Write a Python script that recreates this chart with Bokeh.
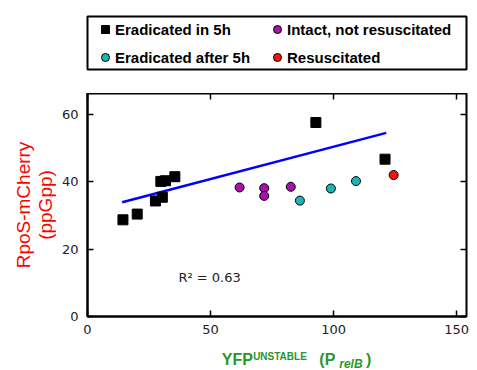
from bokeh.plotting import figure
from bokeh.layouts import column
from bokeh.models import (Legend, LegendItem, LinearAxis, Label, FixedTicker,
                          Range1d, CustomLabelingPolicy)
from bokeh.embed import file_html
from bokeh.resources import INLINE

# Cells eradicated within 5 h
erad5_x = [14.4, 20.2, 27.6, 30.4, 29.8, 31.7, 35.5, 92.8, 120.9]
erad5_y = [28.7, 30.4, 34.3, 35.4, 40.1, 40.3, 41.5, 57.6, 46.7]
# Intact, not resuscitated
intact_x = [61.8, 71.8, 71.8, 82.6]
intact_y = [38.3, 38.1, 35.8, 38.5]
# Eradicated after 5 h
after_x = [86.3, 98.9, 109.1]
after_y = [34.4, 38.0, 40.2]
# Resuscitated
resus_x = [124.4]
resus_y = [42.0]
# Linear fit through the eradicated-in-5h cells
fit_x = [14.1, 121.4]
fit_y = [33.9, 54.5]
r2_text = "R\u00b2 = 0.63"

series_labels = ["Eradicated in 5h", "Intact, not resuscitated",
                 "Eradicated after 5h", "Resuscitated"]
x_ticks = [0, 50, 100, 150]
y_ticks = [0, 20, 40, 60]

W = 477
LEFT, RIGHT = 87, 11
C_BLACK, C_PURPLE, C_CYAN, C_RED = "black", "#aa10aa", "#1cb4b4", "#ff1010"
GREEN = "#2a962a"
NAN = float("nan")

# ---------------- legend strip ----------------
top = figure(width=W, height=93, output_backend="svg", toolbar_location=None,
             x_range=Range1d(0, 1), y_range=Range1d(0, 1),
             min_border_left=86, min_border_right=10, min_border_top=16,
             min_border_bottom=24, x_axis_type=None, y_axis_type=None)
top.grid.visible = False
top.outline_line_color = "black"
top.outline_line_width = 2
top.border_fill_color = "white"

kw = dict(line_color="black", line_width=1)
# legend keys only: a single undefined point, so nothing is plotted here
proxies = [
    top.scatter([NAN], [NAN], marker="square", fill_color=C_BLACK, **kw),
    top.scatter([NAN], [NAN], marker="circle", fill_color=C_PURPLE, **kw),
    top.scatter([NAN], [NAN], marker="circle", fill_color=C_CYAN, **kw),
    top.scatter([NAN], [NAN], marker="circle", fill_color=C_RED, **kw),
]
legend = Legend(items=[LegendItem(label=t, renderers=[r], index=0)
                       for t, r in zip(series_labels, proxies)],
                location=(8, 1), orientation="horizontal", nrows=2,
                label_text_font="Liberation Sans", label_text_font_style="bold",
                label_text_font_size="15px", label_text_color="black",
                border_line_color=None, background_fill_alpha=0,
                glyph_width=20, glyph_height=22, label_height=20,
                label_standoff=0, label_width=146, spacing=6, padding=0,
                margin=0)
top.add_layout(legend, "center")

# ---------------- scatter plot ----------------
p = figure(width=W, height=249, output_backend="svg", toolbar_location=None,
           x_range=Range1d(0, 154), y_range=Range1d(0, 66.2),
           min_border_left=LEFT, min_border_right=RIGHT, min_border_top=0,
           min_border_bottom=26)
p.border_fill_color = "white"
p.outline_line_color = "black"
p.outline_line_width = 2
p.grid.visible = False

for ax in (p.xaxis[0], p.yaxis[0]):
    ax.axis_line_width = 2
    ax.axis_line_color = "black"
    ax.major_tick_in = 6
    ax.major_tick_out = 0
    ax.minor_tick_in = 0
    ax.minor_tick_out = 0
    ax.major_tick_line_width = 1.5
    ax.major_label_text_font = "DejaVu Sans"
    ax.major_label_text_font_size = "13px"
    ax.major_label_text_color = "#222222"
p.xaxis.ticker = FixedTicker(ticks=x_ticks)
p.yaxis.ticker = FixedTicker(ticks=y_ticks)
p.xaxis.major_label_standoff = 8
p.yaxis.major_label_standoff = 9

p.yaxis.axis_label = "RpoS-mCherry\n(ppGpp)"
p.yaxis.axis_label_text_color = "red"
p.yaxis.axis_label_text_font = "Liberation Sans"
p.yaxis.axis_label_text_font_size = "19px"
p.yaxis.axis_label_text_font_style = "normal"
p.yaxis.axis_label_text_line_height = 1.05
p.yaxis.axis_label_standoff = 3

# mirrored tick marks on top and right, without labels
no_labels = CustomLabelingPolicy(code="""
    for (const i of indices)
        indices.unset(i)
""")
for side, ticks in (("above", x_ticks), ("right", y_ticks)):
    ax = LinearAxis(ticker=FixedTicker(ticks=ticks),
                    major_label_overrides={t: "" for t in ticks},
                    major_label_policy=no_labels, axis_line_color=None,
                    major_tick_in=6, major_tick_out=0, minor_tick_in=0,
                    minor_tick_out=0, major_tick_line_width=1.5,
                    major_label_standoff=0)
    p.add_layout(ax, side)

p.line(fit_x, fit_y, line_color="#0000ff", line_width=2.5)
p.scatter(erad5_x, erad5_y, marker="square", size=10, fill_color=C_BLACK,
          line_color="black")
p.scatter(intact_x, intact_y, marker="circle", size=9, fill_color=C_PURPLE, **kw)
p.scatter(after_x, after_y, marker="circle", size=9, fill_color=C_CYAN, **kw)
p.scatter(resus_x, resus_y, marker="circle", size=9, fill_color=C_RED, **kw)

p.add_layout(Label(x=49.6, y=11.7, text=r2_text, text_align="center",
                   text_baseline="middle", text_font="DejaVu Sans",
                   text_font_size="13px", text_color="#222222"))

# ---------------- x-axis title strip ----------------
# y runs downward here so the baselines read as page rows
bot = figure(width=W, height=28, output_backend="svg", toolbar_location=None,
             x_range=p.x_range, y_range=Range1d(370, 342),
             min_border_left=LEFT, min_border_right=RIGHT, min_border_top=0,
             min_border_bottom=0, x_axis_type=None, y_axis_type=None)
bot.grid.visible = False
bot.outline_line_color = None
bot.border_fill_color = "white"

def title_part(x, y, text, size, style="bold"):
    bot.add_layout(Label(x=x, y=y, text=text, text_font="Liberation Sans",
                         text_font_style=style, text_font_size=size,
                         text_color=GREEN, text_baseline="alphabetic"))

title_part(54.6, 359, "YFP", "16px")
title_part(67.3, 356, "UNSTABLE", "10px")
title_part(94.2, 359, "(P", "16px")
title_part(102.3, 363, "relB", "12px", style="bold italic")
title_part(113.2, 359, ")", "16px")

layout = column(top, p, bot, spacing=0)
open("out.html", "w").write(file_html(layout, INLINE))
